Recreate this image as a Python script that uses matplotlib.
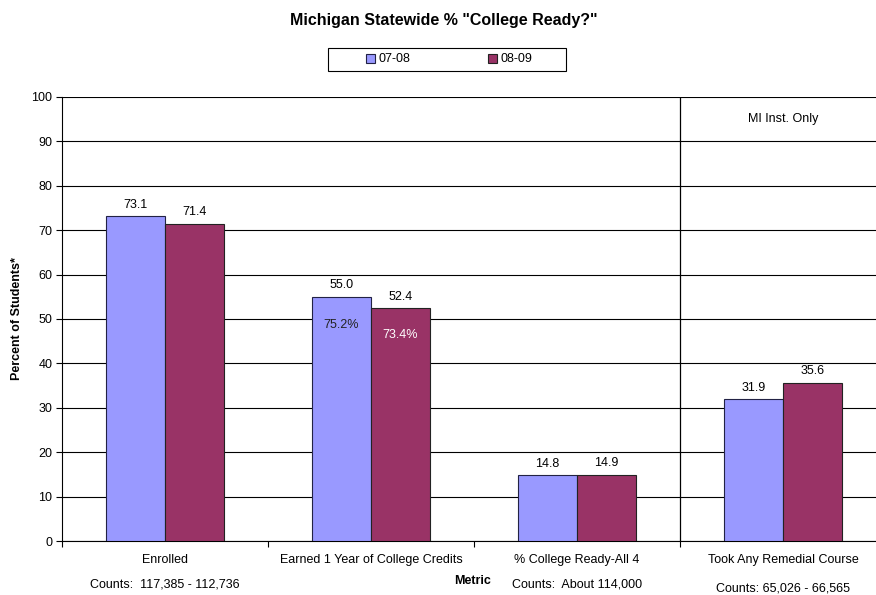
import numpy as np
import matplotlib.pyplot as plt
from matplotlib.patches import Rectangle

plt.rcParams['font.family'] = ['Liberation Sans', 'DejaVu Sans']

# ----------------------------
# Dados
# ----------------------------
categories = ["Enrolled", "Earned 1 Year of College Credits",
              "% College Ready-All 4", "Took Any Remedial Course"]
series_names = ["07-08", "08-09"]
vals_0708 = [73.1, 55.0, 14.8, 31.9]
vals_0809 = [71.4, 52.4, 14.9, 35.6]
inner_labels = [("75.2%", "73.4%")]  # only for group 2
counts = ["Counts:  117,385 - 112,736", "Counts:  About 114,000",
          "Counts: 65,026 - 66,565"]

c_blue = "#9999FF"
c_purple = "#993366"

# ----------------------------
# Figura
# ----------------------------
fig = plt.figure(figsize=(8.76, 5.95), dpi=100)
W, H = 876, 595
left, right, top, bottom = 62, 886, 97, 541
ax = fig.add_axes([left / W, 1 - bottom / H, (right - left) / W, (bottom - top) / H])

x = np.arange(len(categories))
bw = 0.286
b1 = ax.bar(x - bw / 2, vals_0708, bw, color=c_blue, edgecolor="#222244", linewidth=0.8,
            label=series_names[0], zorder=3)
b2 = ax.bar(x + bw / 2, vals_0809, bw, color=c_purple, edgecolor="#222222", linewidth=0.8,
            label=series_names[1], zorder=3)

for rects, vals in ((b1, vals_0708), (b2, vals_0809)):
    for r, v in zip(rects, vals):
        ax.text(r.get_x() + r.get_width() / 2, v + 2.6, f"{v:.1f}",
                ha="center", va="center", fontsize=9)

# etiquetas dentro das barras (grupo 2)
ax.text(x[1] - bw / 2, 48.7, inner_labels[0][0], ha="center", va="center",
        fontsize=9, color="#222222", zorder=4)
ax.text(x[1] + bw / 2, 46.3, inner_labels[0][1], ha="center", va="center",
        fontsize=9, color="white", zorder=4)

ax.set_xlim(-0.5, len(categories) - 0.5)
ax.set_ylim(0, 100)
ax.set_yticks(np.arange(0, 101, 10))
ax.yaxis.grid(True, color="black", linewidth=0.8, zorder=0)
ax.set_xticks(np.arange(-0.5, len(categories), 1.0), minor=False)
ax.set_xticklabels([])
ax.tick_params(axis="x", length=4, direction="out", width=0.8)
ax.tick_params(axis="y", length=4, direction="out", width=0.8, labelsize=9, pad=3)
for s in ("top", "right"):
    ax.spines[s].set_visible(False)
ax.spines["left"].set_linewidth(0.8)
ax.spines["bottom"].set_linewidth(0.8)

# linha divisória
ax.axvline(2.5, color="black", linewidth=0.9, zorder=2)
ax.text(3.0, 95, "MI Inst. Only", ha="center", va="center", fontsize=9)

# rótulos de categoria
for xi, lab in zip(x, categories):
    ax.text(xi, -4.3, lab, ha="center", va="center", fontsize=9)

ax.text(0.0, -9.7, counts[0], ha="center", va="center", fontsize=9)
ax.text(2.0, -9.7, counts[1], ha="center", va="center", fontsize=9)
ax.text(3.0, -10.6, counts[2], ha="center", va="center", fontsize=9)
fig.text(473 / W, 1 - 581 / H, "Metric", ha="center", va="center", fontsize=9,
         fontweight="bold")

fig.text(17 / W, 1 - 319 / H, "Percent of Students*", rotation=90, ha="center",
         va="center", fontsize=9, fontweight="bold")
fig.text(444 / W, 1 - 20 / H, 'Michigan Statewide % "College Ready?"', ha="center",
         va="center", fontsize=11.5, fontweight="bold")

# legenda (moldura desenhada à parte)
fig.patches.append(Rectangle((328 / W, 1 - 71 / H), 238 / W, 23 / H,
                             transform=fig.transFigure, facecolor="white",
                             edgecolor="black", linewidth=0.8, zorder=1))
leg = fig.legend(handles=[b1, b2], labels=series_names, loc="center",
                 bbox_to_anchor=(449 / W, 1 - 59.5 / H), ncol=2, frameon=False,
                 fontsize=9, handlelength=0.7, handleheight=0.7,
                 handletextpad=0.3, columnspacing=6.2, borderpad=0.2)
leg.set_zorder(5)

fig.savefig("out.png", dpi=100)
